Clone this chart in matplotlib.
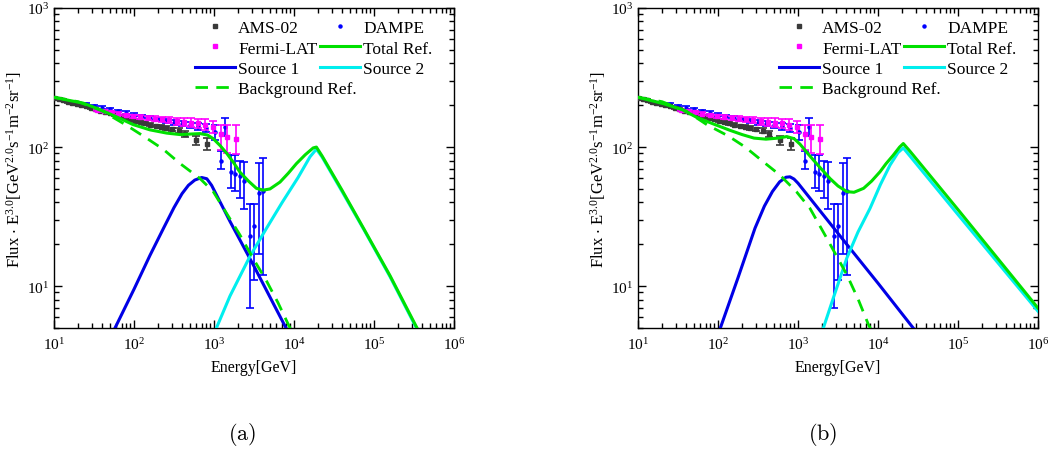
import matplotlib
matplotlib.use("Agg")
import matplotlib.pyplot as plt
from matplotlib.lines import Line2D
from matplotlib.ticker import LogLocator, LogFormatterMathtext, NullFormatter
import numpy as np

plt.rcParams['font.family'] = ['Liberation Serif', 'DejaVu Serif']
plt.rcParams['mathtext.default'] = 'regular'

# =============================================================================
# measured data (same in both panels)
# =============================================================================
ams_E = [10, 11.5, 13, 15, 17, 19.5, 22, 25, 29, 33, 38, 44, 50, 58, 67, 77, 89,
         103, 119, 138, 160, 186, 217, 254, 300, 360, 435, 596, 810]
ams_F = [227, 222, 217, 212, 207, 203, 200, 196, 192, 187, 183, 179, 175, 171, 167,
         163, 159, 155, 151, 148, 145, 142, 140, 137, 134, 131, 125, 112, 106]
ams_err = [3, 3, 3, 3, 3, 3, 3, 3, 3, 3, 3, 3, 3, 3, 3, 3, 3, 3, 3, 3, 3, 3, 3,
           4, 4, 5, 6, 9, 10]

fermi_E = [34, 42, 52, 64, 79, 97, 120, 148, 182, 224, 276, 340, 419, 516, 635,
           782, 963, 1230, 1445, 1900]
fermi_F = [186, 182, 178, 174, 170, 167, 164, 162, 160, 158, 156, 154, 152, 150,
           148, 145, 140, 125, 118, 115]
fermi_lo = [3, 3, 3, 4, 4, 4, 5, 6, 7, 7, 8, 9, 10, 11, 12, 13, 14, 30, 28, 26]
fermi_hi = [3, 3, 3, 4, 4, 4, 5, 6, 7, 7, 8, 9, 10, 11, 12, 13, 15, 18, 25, 28]

dampe_E = [25, 32, 40, 50, 63, 79, 100, 126, 158, 200, 251, 316, 398, 501, 631,
           794, 1030, 1210, 1380, 1620, 1815, 2110, 2390, 2820, 3160, 3650, 4130]
dampe_F = [203, 198, 192, 187, 182, 177, 171, 167, 162, 158, 154, 150, 147, 144,
           141, 138, 128, 80, 140, 66, 64, 62, 57, 23, 27, 47, 48]
dampe_lo = [4, 4, 4, 4, 4, 4, 4, 4, 5, 5, 5, 6, 6, 7, 8, 9, 15, 10, 19, 15, 16,
            19, 21, 16, 16, 30, 36]
dampe_hi = [4, 4, 4, 4, 4, 4, 4, 4, 5, 5, 5, 6, 6, 7, 8, 9, 16, 13, 23, 21, 23,
            18, 21, 16, 12, 30, 36]

# =============================================================================
# model curves, panel (a)
# =============================================================================
a_tot_E = [10, 15.8, 23.2, 37.6, 60.3, 97.7, 158, 257, 376, 501, 668, 832, 977,
           1202, 1445, 1738, 2113, 2692, 3388, 4130, 5012, 6683, 8511, 10715,
           13800, 17380, 19050, 22390, 39810, 74130, 158500, 338800, 398100]
a_tot_F = [228, 216, 207, 186, 165, 145, 133, 126, 123, 124, 125, 122, 115, 102,
           90, 78, 66, 57, 50.5, 49, 50, 56, 65, 76, 88, 98.6, 100, 86.5, 49, 26,
           11.9, 5.1, 4.3]
a_s2_E = [1000, 1072, 1585, 2818, 4467, 7079, 11220, 15850, 19050, 22390, 39810,
          74130, 158500, 338800, 398100]
a_s2_F = [4.6, 5.0, 8.5, 16.4, 25.7, 39.8, 60.3, 85.1, 96.6, 85, 48, 25.7, 11.7,
          5.0, 4.3]
a_s1_E = [50, 57.9, 100, 158, 234, 316, 398, 479, 575, 701, 813, 933, 1585, 3162,
          7943, 8913]
a_s1_F = [4.3, 5.0, 9.5, 16.6, 26.1, 36.7, 46.2, 53.1, 57.9, 60.4, 59.2, 53.1,
          29.2, 13.9, 5.0, 4.4]
a_bg_E = [10, 20, 39.8, 81.3, 137, 232, 376, 668, 977, 1413, 2113, 3090, 4571,
          6310, 8913, 10000]
a_bg_F = [228, 212, 182, 143, 118, 96.4, 76.2, 59.4, 47.9, 33.9, 23.3, 15.8, 10.8,
          7.6, 5.0, 4.4]

# =============================================================================
# model curves, panel (b)
# =============================================================================
b_tot_E = [10, 20.9, 35.5, 53.7, 89.1, 141, 200, 282, 398, 562, 724, 891, 1059,
           1318, 1698, 2512, 3162, 4074, 5012, 6607, 8318, 10590, 12590, 15490,
           18620, 20700, 25120, 100000, 1000000]
b_tot_F = [228, 205, 186, 164, 146, 132, 123, 116, 114, 116, 119, 115, 105, 90.2,
           76.2, 59.4, 52.5, 47.8, 47.3, 50.5, 56.9, 66.4, 75.9, 87.3, 100, 106,
           93.3, 35.5, 6.95]
b_s2_E = [1905, 2075, 2818, 4074, 5623, 7943, 10715, 14125, 17780, 20700, 25120,
          100000, 1000000]
b_s2_F = [4.4, 5.0, 8.5, 15.9, 24.5, 36.2, 53.7, 74.1, 91.2, 98.6, 86.1, 32.7, 6.6]
b_s1_E = [100, 107, 178, 290, 380, 479, 589, 708, 794, 891, 1000, 3981, 10000,
          27540, 31620]
b_s1_F = [4.5, 5.0, 11.5, 26.1, 37.6, 47.9, 56.2, 60.7, 61.1, 58.9, 55, 20.3, 10.5,
          5.0, 4.6]
b_bg_E = [10, 20, 39.8, 72.4, 135, 219, 369, 596, 955, 1413, 2291, 4074, 5623,
          7586, 8913]
b_bg_F = [228, 212, 182, 145, 120, 100, 78.3, 62.8, 47.8, 36.2, 22.1, 12.1, 8.1,
          5.3, 4.4]

c_green = '#00e000'
c_blue = '#0000e6'
c_cyan = '#00eeee'
c_mag = '#ff00ff'
c_ams = '#3a3a3a'
c_dampe = '#0000ff'

fig = plt.figure(figsize=(10.51, 4.52), dpi=100)
ax_a = fig.add_axes([54/1051, 123/452, 400/1051, 320/452])
ax_b = fig.add_axes([638/1051, 123/452, 400/1051, 320/452])


def panel(ax, tot, s1, s2, bg):
    ax.errorbar(dampe_E, dampe_F, yerr=[dampe_lo, dampe_hi], fmt='o', ms=2.2,
                color=c_dampe, elinewidth=1.2, capsize=3, capthick=1.2, zorder=3)
    ax.errorbar(ams_E, ams_F, yerr=ams_err, fmt='s', ms=2.2, color=c_ams,
                elinewidth=1.2, capsize=3, capthick=1.2, zorder=3.1)
    ax.errorbar(fermi_E, fermi_F, yerr=[fermi_lo, fermi_hi], fmt='s', ms=2.2,
                color=c_mag, elinewidth=1.2, capsize=3, capthick=1.2, zorder=3.2)
    ax.plot(s1[0], s1[1], color=c_blue, lw=2.2, zorder=4)
    ax.plot(bg[0], bg[1], color=c_green, lw=2.0, dashes=(4.5, 3), zorder=5)
    ax.plot(s2[0], s2[1], color=c_cyan, lw=2.2, zorder=4)
    ax.plot(tot[0], tot[1], color=c_green, lw=2.2, zorder=5)

    ax.set_xscale('log')
    ax.set_yscale('log')
    ax.set_xlim(10, 1e6)
    ax.set_ylim(5, 1000)
    ax.xaxis.set_major_locator(LogLocator(base=10, numticks=10))
    ax.xaxis.set_minor_locator(LogLocator(base=10, subs=np.arange(2, 10), numticks=20))
    ax.yaxis.set_major_locator(LogLocator(base=10, numticks=10))
    ax.yaxis.set_minor_locator(LogLocator(base=10, subs=np.arange(2, 10), numticks=20))
    ax.xaxis.set_major_formatter(LogFormatterMathtext())
    ax.yaxis.set_major_formatter(LogFormatterMathtext())
    ax.xaxis.set_minor_formatter(NullFormatter())
    ax.yaxis.set_minor_formatter(NullFormatter())
    ax.tick_params(which='both', direction='in', top=True, right=True,
                   labelsize=11, width=1.0)
    ax.tick_params(which='major', length=6)
    ax.tick_params(which='minor', length=3.5)
    ax.tick_params(axis='x', pad=6)
    for s in ax.spines.values():
        s.set_linewidth(1.0)

    ax.set_xlabel('Energy[GeV]', fontsize=11.5, labelpad=5)
    ax.set_ylabel(r'Flux $\cdot$ E$^{3.0}$[GeV$^{2.0}$s$^{-1}$m$^{-2}$sr$^{-1}$]',
                  fontsize=12, labelpad=2)

    h = [Line2D([], [], ls='none', marker='s', ms=2.2, color=c_ams),
         Line2D([], [], ls='none', marker='s', ms=2.2, color=c_mag),
         Line2D([], [], color=c_blue, lw=2.2),
         Line2D([], [], ls='none', marker='o', ms=2.2, color=c_dampe),
         Line2D([], [], color=c_green, lw=2.2),
         Line2D([], [], color=c_cyan, lw=2.2)]
    lab = ['AMS-02', 'Fermi-LAT', 'Source 1', 'DAMPE', 'Total Ref.', 'Source 2']
    leg = ax.legend(h, lab, ncol=2, loc='upper left', bbox_to_anchor=(0.33, 0.99),
                    frameon=False, fontsize=12.5, handlelength=2.3, handletextpad=0.2,
                    columnspacing=0.15, labelspacing=0.25, borderpad=0)
    ax.add_artist(leg)
    ax.legend([Line2D([], [], color=c_green, lw=2.0, dashes=(4.5, 3))],
              ['Background Ref.'], loc='upper left', bbox_to_anchor=(0.33, 0.80),
              frameon=False, fontsize=12.5, handlelength=2.3, handletextpad=0.2,
              borderpad=0)


panel(ax_a, (a_tot_E, a_tot_F), (a_s1_E, a_s1_F), (a_s2_E, a_s2_F), (a_bg_E, a_bg_F))
panel(ax_b, (b_tot_E, b_tot_F), (b_s1_E, b_s1_F), (b_s2_E, b_s2_F), (b_bg_E, b_bg_F))

fig.text(242/1051, 1 - 435/452, r'$\mathrm{(a)}$', math_fontfamily='cm',
         fontsize=16, ha='center', va='center')
fig.text(823/1051, 1 - 435/452, r'$\mathrm{(b)}$', math_fontfamily='cm',
         fontsize=16, ha='center', va='center')

fig.savefig('out.png', dpi=100)
